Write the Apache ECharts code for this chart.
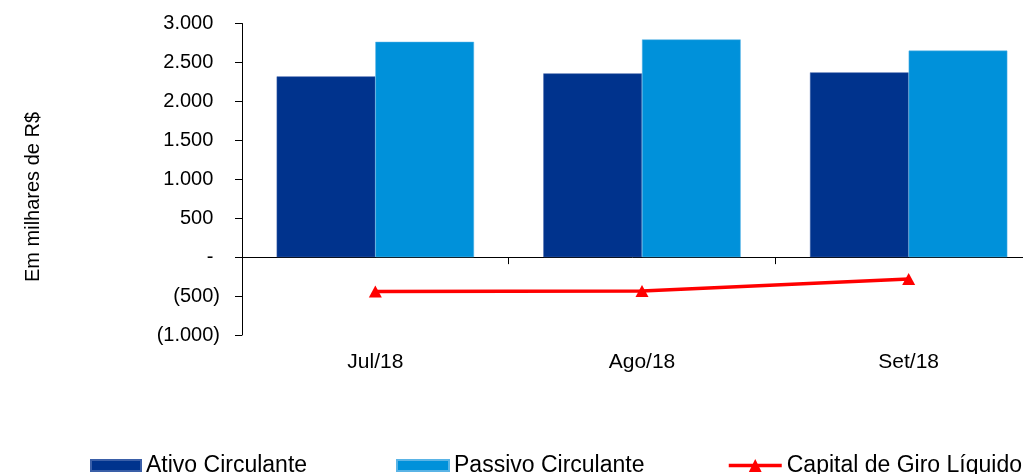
<!DOCTYPE html>
<html>
<head>
<meta charset="utf-8">
<script src="https://cdn.jsdelivr.net/npm/echarts@6/dist/echarts.min.js"></script>
<style>html,body{margin:0;padding:0;background:#fff}#c{width:1023px;height:474px}</style>
</head>
<body>
<div id="c"></div>
<script>
const categories = ['Jul/18', 'Ago/18', 'Set/18'];
const ativoCirculante = [2321, 2359, 2372];
const passivoCirculante = [2765, 2795, 2652];
const capitalGiroLiquido = [-442, -434, -282];
const yTicks = [-1000, -500, 0, 500, 1000, 1500, 2000, 2500, 3000];

const FONT = 'Liberation Sans, Arial, sans-serif';

function fmt(v) {
  if (v === 0) return '{t|-}{h|)}';
  const s = Math.abs(v).toString().replace(/\B(?=(\d{3})+(?!\d))/g, '.');
  return v < 0 ? '{t|(' + s + ')}' : '{t|' + s + '}{h|)}';
}

const legendText = { fontSize: 23, fontFamily: FONT, color: '#000' };

const chart = echarts.init(document.getElementById('c'));
chart.setOption({
  animation: false,
  backgroundColor: '#fff',
  grid: { left: 242, top: 23.5, width: 800, height: 311.5, containLabel: false, outerBoundsMode: 'none' },
  xAxis: {
    type: 'category',
    data: categories,
    axisLine: { onZero: true, lineStyle: { color: '#000', width: 1 } },
    axisTick: { show: true, length: 7, inside: false, lineStyle: { color: '#000' } },
    axisLabel: { margin: 17, color: '#000', fontSize: 21, fontFamily: FONT }
  },
  yAxis: {
    type: 'value',
    min: yTicks[0],
    max: yTicks[yTicks.length - 1],
    interval: 500,
    splitLine: { show: false },
    axisLine: { show: true, lineStyle: { color: '#000', width: 1 } },
    axisTick: { show: true, length: 7, lineStyle: { color: '#000' } },
    axisLabel: {
      margin: 22,
      formatter: fmt,
      rich: {
        t: { color: '#000', fontSize: 20, fontFamily: FONT },
        h: { color: 'rgba(0,0,0,0)', fontSize: 20, fontFamily: FONT }
      }
    }
  },
  graphic: [{
    type: 'text',
    x: 33, y: 197,
    rotation: Math.PI / 2,
    style: {
      text: 'Em milhares de R$',
      fill: '#000',
      font: '20px ' + FONT,
      align: 'center',
      verticalAlign: 'middle',
      textAlign: 'center',
      textVerticalAlign: 'middle'
    }
  }],
  legend: [
    { left: 90, top: 454, padding: 0, itemWidth: 50, itemHeight: 11, itemGap: 0, icon: 'rect', data: ['Ativo Circulante'], textStyle: legendText },
    { left: 396, top: 454, padding: 0, itemWidth: 52, itemHeight: 11, itemGap: 0, icon: 'rect', data: ['Passivo Circulante'], textStyle: legendText },
    { left: 727, top: 454, padding: 0, itemWidth: 53, itemHeight: 16, itemGap: 0, data: ['Capital de Giro Líquido'], textStyle: legendText,
      lineStyle: { width: 3.5, color: '#FF0000' } }
  ],
  series: [
    {
      name: 'Ativo Circulante', type: 'bar', data: ativoCirculante,
      barGap: '0%', barCategoryGap: '26%',
      itemStyle: { color: '#00338D', borderColor: '#3a5fa8', borderWidth: 0.5 }
    },
    {
      name: 'Passivo Circulante', type: 'bar', data: passivoCirculante,
      barGap: '0%', barCategoryGap: '26%',
      itemStyle: { color: '#0091DA', borderColor: '#5ab4e6', borderWidth: 0.5 }
    },
    {
      name: 'Capital de Giro Líquido', type: 'line', data: capitalGiroLiquido,
      symbol: 'triangle', symbolSize: [13, 12], showAllSymbol: true,
      lineStyle: { color: '#FF0000', width: 3.5 },
      itemStyle: { color: '#FF0000' },
      z: 5
    }
  ]
});
</script>
</body>
</html>
